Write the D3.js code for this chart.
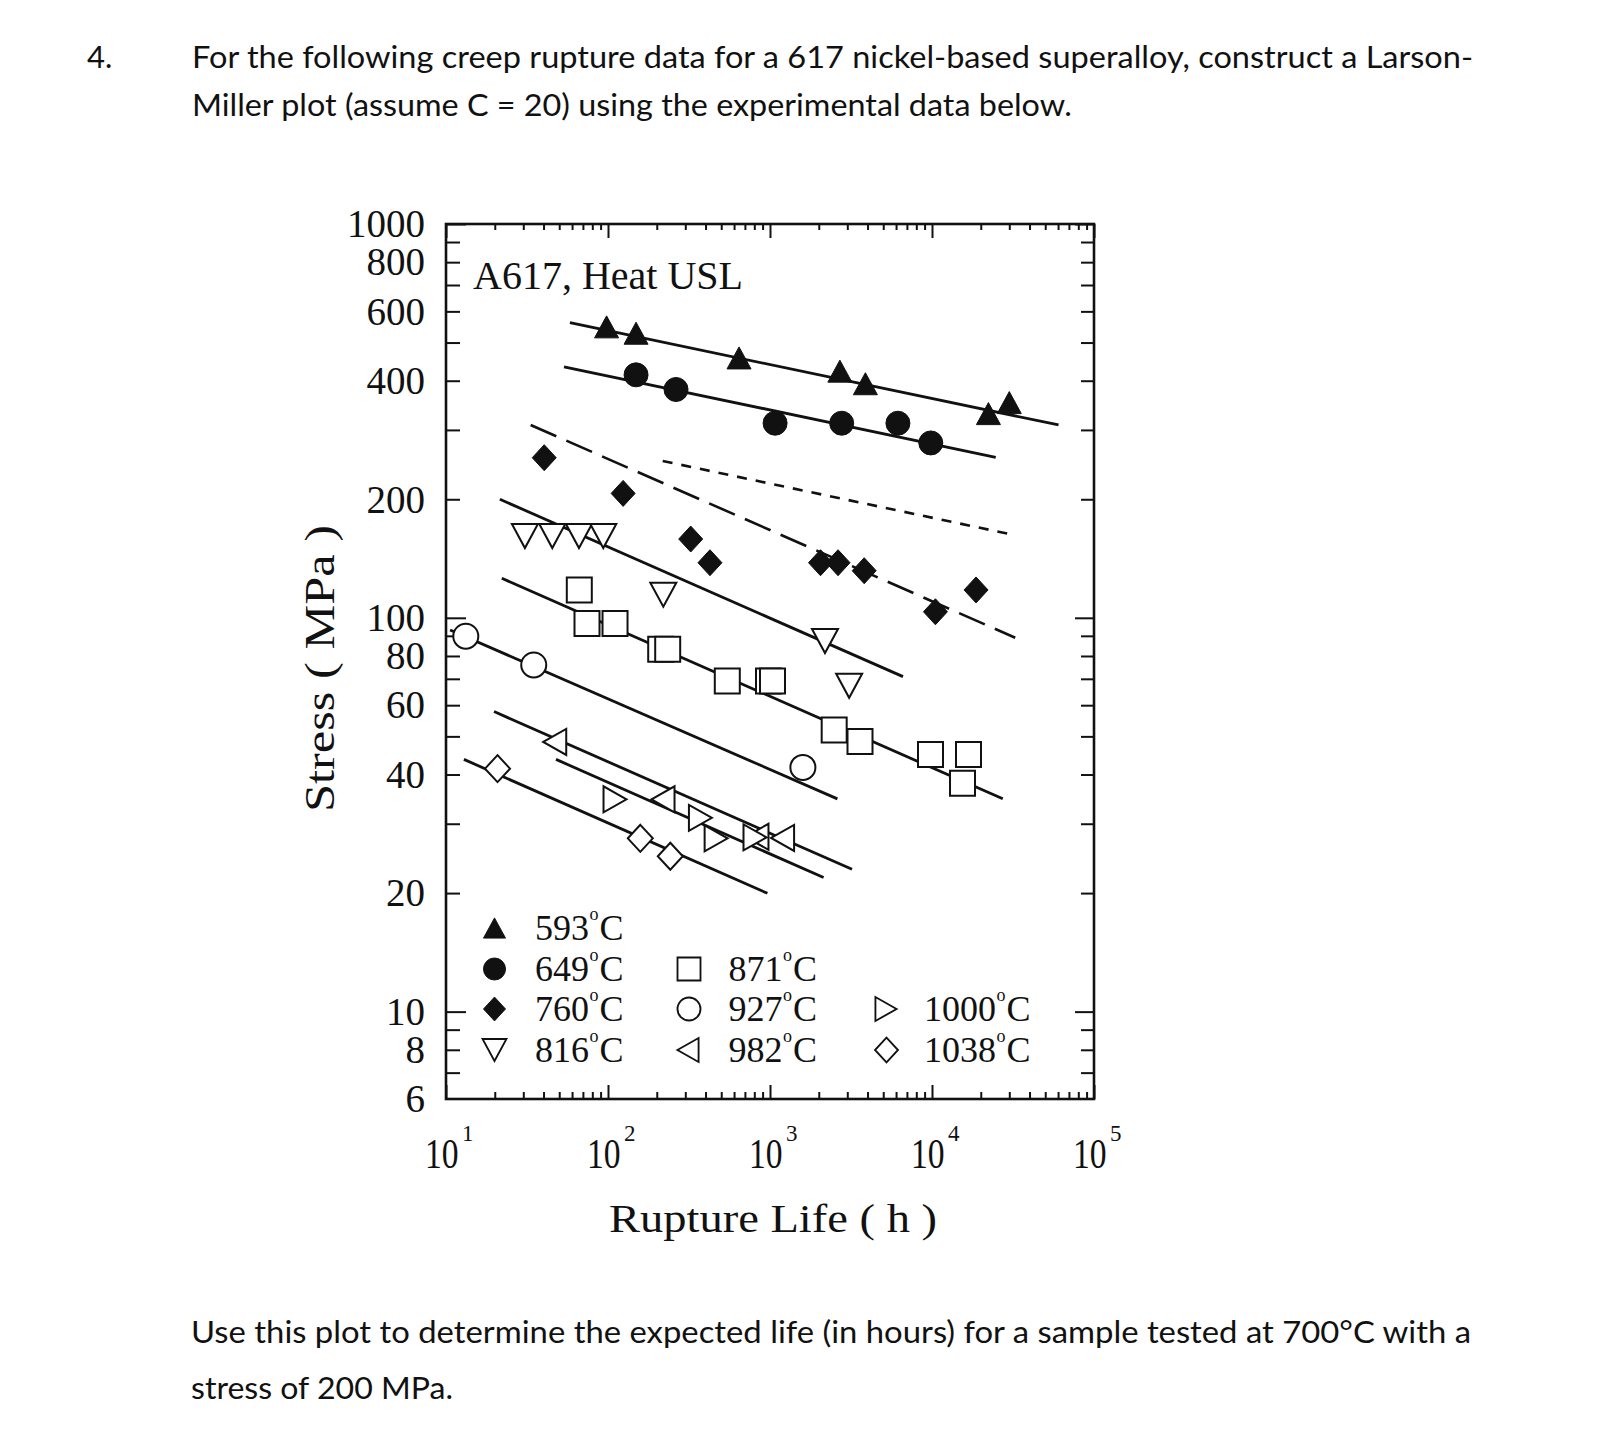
<!DOCTYPE html>
<html><head><meta charset="utf-8">
<script src="https://cdn.jsdelivr.net/npm/d3@7"></script>
<style>body{margin:0;background:#fff;} svg{display:block;}</style>
</head><body>
<svg id="c" width="1598" height="1452"></svg>
<script>
// ---------- data ----------
const tempLabels = ["593","649","760","816","871","927","982","1000","1038"];

const life593 = [98, 149, 644, 2700, 3880, 22300, 30000];
const stress593 = [548, 528, 457, 423, 393, 330, 352];

const life649 = [149, 263, 1075, 2770, 6160, 9830];
const stress649 = [414, 380, 312, 312, 312, 278];

const life760 = [40.4, 124, 324, 426, 2050, 2630, 3815, 10500, 18700];
const stress760 = [255, 207, 158.5, 138, 138, 138, 131.7, 103.6, 117.7];

const life816 = [30.7, 45.3, 66.2, 93.5, 219.5, 2185, 3080];
const stress816 = [161.3, 161.3, 161.3, 161.3, 114.5, 87.3, 67.2];

const life871 = [66.5, 74.2, 110.5, 211.5, 233.6, 545, 979, 1036, 2490, 3594, 9790, 16800, 15430];
const stress871 = [117.7, 96.8, 96.8, 83.2, 83.2, 69.1, 69.1, 69.1, 51.9, 48.5, 45.0, 45.0, 38.0];

const life927 = [13.25, 34.8, 1596];
const stress927 = [89.8, 75.9, 41.7];

const life982 = [46.9, 218.6, 831, 1196];
const stress982 = [48.4, 34.6, 27.8, 27.6];

const life1000 = [110.5, 372, 465, 808];
const stress1000 = [34.6, 31.05, 27.55, 27.7];

const life1038 = [20.8, 158.3, 242.4];
const stress1038 = [41.4, 27.55, 24.8];

// fitted lines: [[life, stress], [life, stress]]
const fit593 = [[58.2, 561.6], [60400, 308.8]];
const fit649 = [[53.5, 434], [24740, 255.6]];
const fit760 = [[33.3, 308.8], [32640, 89.0]];
const fitShortDash = [[217.6, 250.2], [32810, 162.0]];
const fit816 = [[21.5, 200], [6622, 70.9]];
const fit871 = [[22.1, 126.0], [27350, 34.7]];
const fit927 = [[10.6, 93.1], [2607, 34.7]];
const fit982 = [[19.8, 57.8], [3208, 22.98]];
const fit1000 = [[47.75, 43.7], [2142, 21.9]];
const fit1038 = [[12.9, 43.7], [964, 19.97]];

// ticks / labels
const xDecades = [10, 100, 1000, 10000, 100000];
const xExponents = ["1", "2", "3", "4", "5"];
const yLabels = [1000, 800, 600, 400, 200, 100, 80, 60, 40, 20, 10, 8, 6];
const yLongTicks = [10, 100, 1000];

const titleLines = [
  "For the following creep rupture data for a 617 nickel-based superalloy, construct a Larson-",
  "Miller plot (assume C = 20) using the experimental data below."
];
const footLines = [
  "Use this plot to determine the expected life (in hours) for a sample tested at 700°C with a",
  "stress of 200 MPa."
];
const annotation = "A617, Heat USL";
const xTitle = "Rupture Life ( h )";
const yTitle = "Stress ( MPa )";

// ---------- drawing ----------
const svg = d3.select("#c");
const serif = "'Liberation Serif','Times New Roman',serif";
const sans = "Lato,'Open Sans',sans-serif";
const L = 446, R = 1094, T = 224, B = 1099;
const x = d3.scaleLog().domain([10, 1e5]).range([L, R]);
const y = d3.scaleLog().domain([6, 1000]).range([B, T]);

svg.append("rect").attr("width", 1598).attr("height", 1452).attr("fill", "#fff");

// question text
svg.append("text").attr("x", 87).attr("y", 68).attr("font-family", sans).attr("font-size", 31)
  .attr("fill", "#111").text("4.");
const tl = [{y: 68, w: 1281}, {y: 116, w: 880}];
titleLines.forEach((t, i) => {
  svg.append("text").attr("x", 192).attr("y", tl[i].y).attr("font-family", sans).attr("font-size", 31)
    .attr("fill", "#111").attr("textLength", tl[i].w).attr("lengthAdjust", "spacingAndGlyphs").text(t);
});
const fl = [{y: 1343, w: 1280}, {y: 1399, w: 262}];
footLines.forEach((t, i) => {
  svg.append("text").attr("x", 191).attr("y", fl[i].y).attr("font-family", sans).attr("font-size", 31)
    .attr("fill", "#111").attr("textLength", fl[i].w).attr("lengthAdjust", "spacingAndGlyphs").text(t);
});

// axes ticks
const xMinor = x.ticks().filter(v => !xDecades.includes(v));
const yMinor = y.ticks().filter(v => !yLongTicks.includes(v) && v > 6);
function styleAxis(g) {
  g.select(".domain").remove();
  g.selectAll("line").attr("stroke", "#111").attr("stroke-width", 2);
}
const fmt = () => "";
svg.append("g").attr("transform", `translate(0,${B})`)
  .call(d3.axisBottom(x).tickValues(xDecades).tickSize(-14).tickFormat(fmt)).call(styleAxis);
svg.append("g").attr("transform", `translate(0,${B})`)
  .call(d3.axisBottom(x).tickValues(xMinor).tickSize(-7).tickFormat(fmt)).call(styleAxis);
svg.append("g").attr("transform", `translate(0,${T})`)
  .call(d3.axisTop(x).tickValues(xDecades).tickSize(-14).tickFormat(fmt)).call(styleAxis);
svg.append("g").attr("transform", `translate(0,${T})`)
  .call(d3.axisTop(x).tickValues(xMinor).tickSize(-6).tickFormat(fmt)).call(styleAxis);
svg.append("g").attr("transform", `translate(${L},0)`)
  .call(d3.axisLeft(y).tickValues(yLongTicks).tickSize(-20).tickFormat(fmt)).call(styleAxis);
svg.append("g").attr("transform", `translate(${L},0)`)
  .call(d3.axisLeft(y).tickValues(yMinor).tickSize(-14).tickFormat(fmt)).call(styleAxis);
svg.append("g").attr("transform", `translate(${R},0)`)
  .call(d3.axisRight(y).tickValues(yLongTicks).tickSize(-19).tickFormat(fmt)).call(styleAxis);
svg.append("g").attr("transform", `translate(${R},0)`)
  .call(d3.axisRight(y).tickValues(yMinor).tickSize(-13).tickFormat(fmt)).call(styleAxis);

// frame
svg.append("rect").attr("x", L).attr("y", T).attr("width", R - L).attr("height", B - T)
  .attr("fill", "none").attr("stroke", "#111").attr("stroke-width", 2.6);

// y tick labels
svg.append("g").selectAll("text").data(yLabels).join("text")
  .attr("x", 425).attr("y", d => y(d)).attr("dy", "0.34em").attr("text-anchor", "end")
  .attr("font-family", serif).attr("font-size", 39).attr("fill", "#111").text(d => d);

// x tick labels (10^n)
const xl = svg.append("g").selectAll("g").data(xDecades).join("g")
  .attr("transform", d => `translate(${x(d)},0)`);
xl.append("text").attr("transform", "translate(-21,1168) scale(0.8,1)").attr("font-family", serif)
  .attr("font-size", 42).attr("fill", "#111").text("10");
xl.append("text").attr("x", 16).attr("y", 1141).attr("font-family", serif).attr("font-size", 23)
  .attr("fill", "#111").text((d, i) => xExponents[i]);

// axis titles
svg.append("text").attr("x", 609).attr("y", 1232).attr("font-family", serif).attr("font-size", 41)
  .attr("fill", "#111").attr("textLength", 328).attr("lengthAdjust", "spacingAndGlyphs").text(xTitle);
svg.append("text").attr("transform", "translate(334,812) rotate(-90)").attr("font-family", serif)
  .attr("font-size", 42).attr("fill", "#111").attr("textLength", 287).attr("lengthAdjust", "spacingAndGlyphs")
  .text(yTitle);

// annotation
svg.append("text").attr("x", 473).attr("y", 289).attr("font-family", serif).attr("font-size", 40)
  .attr("fill", "#111").text(annotation);

// fit lines
const line = d3.line().x(d => x(d[0])).y(d => y(d[1]));
const fits = [
  {d: fit593, dash: null}, {d: fit649, dash: null}, {d: fit760, dash: "28,11"},
  {d: fitShortDash, dash: "10,9"}, {d: fit816, dash: null}, {d: fit871, dash: null},
  {d: fit927, dash: null}, {d: fit982, dash: null}, {d: fit1000, dash: null}, {d: fit1038, dash: null}
];
svg.append("g").selectAll("path").data(fits).join("path")
  .attr("d", f => line(f.d)).attr("fill", "none").attr("stroke", "#111")
  .attr("stroke-width", f => f.dash ? 2.6 : 2.8).attr("stroke-dasharray", f => f.dash);

// marker shapes
const shapes = {
  triUp: {p: "M0,-11L12,11L-12,11Z", fill: true},
  circle: {p: "M12,0A12,12 0 1 1 -12,0A12,12 0 1 1 12,0Z", fill: true},
  diamond: {p: "M0,-13L12,0L0,13L-12,0Z", fill: true},
  triDown: {p: "M-13,-12L13,-12L0,12Z", fill: false},
  square: {p: "M-12.5,-12.5h25v25h-25Z", fill: false},
  ocircle: {p: "M12.5,0A12.5,12.5 0 1 1 -12.5,0A12.5,12.5 0 1 1 12.5,0Z", fill: false},
  triLeft: {p: "M-11.5,0L11.5,-13L11.5,13Z", fill: false},
  triRight: {p: "M11.5,0L-11.5,-13L-11.5,13Z", fill: false},
  odiamond: {p: "M0,-13.5L12.5,0L0,13.5L-12.5,0Z", fill: false}
};
const series = [
  {lab: tempLabels[0], life: life593, stress: stress593, shape: "triUp"},
  {lab: tempLabels[1], life: life649, stress: stress649, shape: "circle"},
  {lab: tempLabels[2], life: life760, stress: stress760, shape: "diamond"},
  {lab: tempLabels[3], life: life816, stress: stress816, shape: "triDown"},
  {lab: tempLabels[4], life: life871, stress: stress871, shape: "square"},
  {lab: tempLabels[5], life: life927, stress: stress927, shape: "ocircle"},
  {lab: tempLabels[6], life: life982, stress: stress982, shape: "triLeft"},
  {lab: tempLabels[7], life: life1000, stress: stress1000, shape: "triRight"},
  {lab: tempLabels[8], life: life1038, stress: stress1038, shape: "odiamond"}
];
function drawShape(g, name) {
  const s = shapes[name];
  g.append("path").attr("d", s.p)
    .attr("fill", s.fill ? "#111" : "#fff").attr("stroke", "#111")
    .attr("stroke-width", s.fill ? 1 : 2).attr("stroke-linejoin", "miter");
}
series.forEach(s => {
  const pts = s.life.map((t, i) => [t, s.stress[i]]);
  svg.append("g").selectAll("g").data(pts).join("g")
    .attr("transform", d => `translate(${x(d[0])},${y(d[1])})`)
    .each(function () { drawShape(d3.select(this), s.shape); });
});

// legend
const legendPos = [
  {cx: 494.5, tx: 535, cy: 928}, {cx: 494.5, tx: 535, cy: 969}, {cx: 494.5, tx: 535, cy: 1009},
  {cx: 494.5, tx: 535, cy: 1050}, {cx: 689, tx: 728.5, cy: 969}, {cx: 689, tx: 728.5, cy: 1009},
  {cx: 688, tx: 728.5, cy: 1050}, {cx: 886, tx: 924, cy: 1009}, {cx: 886.5, tx: 924, cy: 1050}
];
series.forEach((s, i) => {
  const p = legendPos[i];
  const g = svg.append("g").attr("transform", `translate(${p.cx},${p.cy}) scale(0.92)`);
  drawShape(g, s.shape);
  const t = svg.append("text").attr("x", p.tx).attr("y", p.cy + 12).attr("font-family", serif)
    .attr("font-size", 36).attr("fill", "#111");
  t.append("tspan").text(s.lab);
  t.append("tspan").attr("font-size", 18).attr("dy", -20).attr("dx", 0.5).text("o");
  t.append("tspan").attr("dy", 20).attr("dx", 1).text("C");
});
</script>
</body></html>
